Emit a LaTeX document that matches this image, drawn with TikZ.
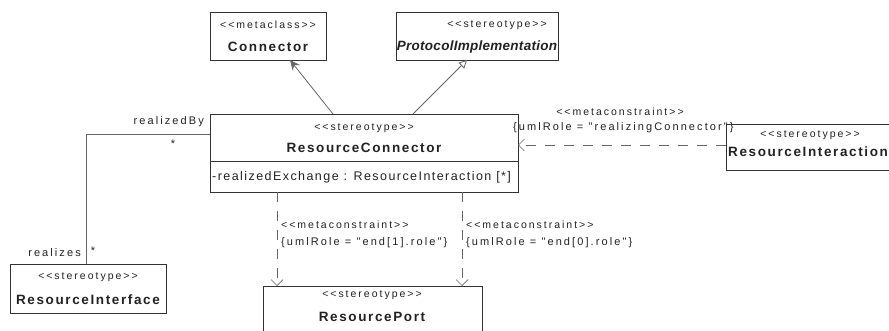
\documentclass[tikz,border=0pt]{standalone}
\usepackage{fontspec}
\setmainfont{Liberation Sans}
\newfontfamily\stfont[LetterSpace=19]{Liberation Sans}
\newfontfamily\lbfont[LetterSpace=19]{Liberation Sans}
\newfontfamily\nmfont[LetterSpace=12]{Liberation Sans}
\newfontfamily\atfont[LetterSpace=11.5]{Liberation Sans}
\newfontfamily\pifnt[LetterSpace=2]{Liberation Sans}
\usetikzlibrary{arrows.meta}
\definecolor{lncol}{HTML}{666666}
\definecolor{bxcol}{HTML}{333333}
\definecolor{txcol}{HTML}{222222}
\tikzset{
  box/.style={draw=bxcol, line width=0.9pt, inner sep=0pt, outer sep=0pt, anchor=north west},
  st/.style={font=\stfont\fontsize{10.5}{11}\selectfont, inner sep=0pt, text=txcol},
  nm/.style={font=\nmfont\bfseries\fontsize{13.5}{14}\selectfont, inner sep=0pt, text=txcol},
  lb/.style={font=\lbfont\fontsize{11}{12}\selectfont, inner sep=0pt, text=txcol},
  attxt/.style={font=\atfont\fontsize{12.5}{13}\selectfont, inner sep=0pt, text=txcol},
  assoc/.style={draw=lncol, line width=0.8pt, -{Stealth[length=10pt,width=9pt]}},
  gen/.style={draw=lncol, line width=0.8pt, -{Triangle[open,length=8pt,width=8pt]}},
  dep/.style={draw=lncol, line width=0.7pt, dash pattern=on 10pt off 9pt, -{Straight Barb[length=6pt,width=12pt]}},
  plain/.style={draw=lncol, line width=0.8pt}
}
\begin{document}
\begin{tikzpicture}[x=1pt,y=-1pt]
\useasboundingbox (0,0) rectangle (889,331);
\clip (0,0) rectangle (889,331);
\fill[white] (0,0) rectangle (889,331);
% boxes
\node[box, minimum width=116pt, minimum height=48pt] (conn) at (210,12) {};
\node[box, minimum width=162pt, minimum height=48pt] (proto) at (396,12) {};
\node[box, minimum width=308pt, minimum height=78pt] (rc) at (210,114) {};
\draw[draw=bxcol, line width=0.9pt] (210,161) -- (518,161);
\node[box, minimum width=170pt, minimum height=46pt] (ri) at (726,124) {};
\node[box, minimum width=156pt, minimum height=49pt] (rif) at (10,264) {};
\node[box, minimum width=219pt, minimum height=60pt] (rp) at (263,286) {};
% texts
\node[st] (connst) at (268,25) {<<metaclass>>};
\node[nm] (connnm) at (268,47) {Connector};
\node[st] (protost) at (497,25) {<<stereotype>>};
\node[nm, font=\pifnt\bfseries\itshape\fontsize{13.5}{14}\selectfont] (protonm) at (477,47) {ProtocolImplementation};
\node[st] (rcst) at (364,128) {<<stereotype>>};
\node[nm] (rcnm) at (364,148) {ResourceConnector};
\node[attxt, anchor=west] (rcat) at (212,177) {-realizedExchange : ResourceInteraction [*]};
\node[st] (rist) at (810,135) {<<stereotype>>};
\node[nm, anchor=west] (rinm) at (728,152) {ResourceInteraction};
\node[st] (rifst) at (88,277) {<<stereotype>>};
\node[nm] (rifnm) at (88,300) {ResourceInterface};
\node[st] (rpst) at (372,295) {<<stereotype>>};
\node[nm] (rpnm) at (372,317) {ResourcePort};
% connectors
\draw[assoc] ([xshift=123pt]rc.north west) -- ([xshift=80pt]conn.south west);
\draw[gen] ([xshift=203pt]rc.north west) -- ([xshift=71pt]proto.south west);
\draw[dep] ([yshift=-21pt]ri.north west) -- ([yshift=-31pt]rc.north east);
\draw[dep] ([xshift=67pt]rc.south west) -- ([xshift=14pt]rp.north west);
\draw[dep] ([xshift=252pt]rc.south west) -- ([xshift=199pt]rp.north west);
\draw[plain] ([yshift=-20pt]rc.north west) -| ([xshift=76pt]rif.north west);
% labels
\node[lb, anchor=east] (lrb) at (204,122) {realizedBy};
\node[lb] (lrbm) at (173,144) {*};
\node[lb, anchor=east] (lrz) at (81,253) {realizes};
\node[lb] (lrzm) at (93,251) {*};
\node[st] (mc1) at (620,112) {<<metaconstraint>>};
\node[lb, anchor=west] (uc1) at (513,128) {\{umlRole = "realizingConnector"\}};
\node[st, anchor=west] (mc2) at (281,225) {<<metaconstraint>>};
\node[lb, anchor=west] (uc2) at (281,243) {\{umlRole = "end[1].role"\}};
\node[st, anchor=west] (mc3) at (466,225) {<<metaconstraint>>};
\node[lb, anchor=west] (uc3) at (466,243) {\{umlRole = "end[0].role"\}};
\end{tikzpicture}
\end{document}
